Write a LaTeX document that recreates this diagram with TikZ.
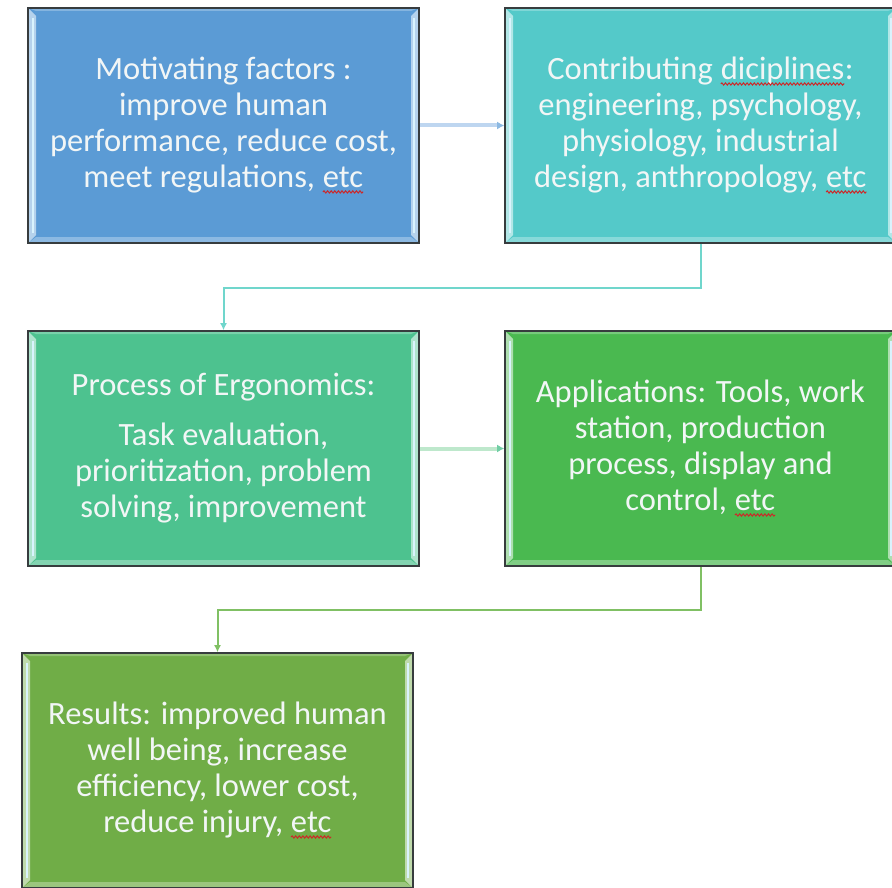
\documentclass[tikz,border=0pt]{standalone}
\usepackage{fontspec}
\setmainfont{Carlito}
\usetikzlibrary{arrows.meta,decorations.pathmorphing}

\definecolor{fillA}{RGB}{91,155,213}
\definecolor{fillB}{RGB}{84,201,201}
\definecolor{fillC}{RGB}{77,194,143}
\definecolor{fillD}{RGB}{74,185,80}
\definecolor{fillE}{RGB}{112,173,71}
\definecolor{edgegray}{RGB}{55,60,62}
\definecolor{txt}{RGB}{242,246,246}
\definecolor{lnA}{RGB}{190,214,240}
\definecolor{lnB}{RGB}{112,214,204}
\definecolor{lnC}{RGB}{190,232,204}
\definecolor{lnD}{RGB}{128,192,100}
\definecolor{squig}{RGB}{205,40,40}

% red wavy underline used under flagged words
\newcommand\spellmark[1]{\tikz[baseline=(sw.base)]{\node[shape=rectangle,inner sep=0pt,outer sep=0pt,
    minimum width=0pt,minimum height=0pt,draw=none,fill=none,path picture={},text=txt] (sw) {#1};
  \draw[squig,line width=1pt,decorate,decoration={snake,amplitude=1.1pt,segment length=3.6pt}]
    ([yshift=-4pt]sw.base west) -- ([yshift=-4pt]sw.base east);}}

\tikzset{
  bevelbox/.style={
    rectangle, minimum width=391pt, minimum height=235pt, inner sep=0pt,
    fill=#1, draw=edgegray, line width=1.6pt, text=txt, align=center,
    font=\fontsize{32.5}{36}\selectfont,
    path picture={
      \coordinate (pa) at (path picture bounding box.north west);
      \coordinate (pb) at (path picture bounding box.south east);
      % top lip
      \fill[#1!75!white] (pa) -- (pa -| pb) -- ([shift={(-8,3)}]pa -| pb) -- ([shift={(8,3)}]pa) -- cycle;
      % bottom lip
      \fill[#1!70!white] (pa |- pb) -- (pb) -- ([shift={(-8,-6)}]pb) -- ([shift={(8,-6)}]pa |- pb) -- cycle;
      % side lips
      \fill[#1!45!white] (pa) -- ([shift={(8,8)}]pa) -- ([shift={(8,-8)}]pa |- pb) -- (pa |- pb) -- cycle;
      \fill[#1!45!white] (pa -| pb) -- ([shift={(-8,8)}]pa -| pb) -- ([shift={(-8,-8)}]pb) -- (pb) -- cycle;
      \draw[white!85!cyan,line width=2pt] ([shift={(5,10)}]pa) -- ([shift={(5,-10)}]pa |- pb);
      \draw[white!85!cyan,line width=2pt] ([shift={(-5,10)}]pa -| pb) -- ([shift={(-5,-10)}]pb);
    }
  },
  link/.style={line width=#1, -{Latex[length=7pt,width=7pt]}},
}

\begin{document}
\begin{tikzpicture}[x=1pt,y=-1pt]
  \useasboundingbox (0,0) rectangle (892,888);
  \clip (0,0) rectangle (892,888);

  \node[bevelbox=fillA] (motiv) at (223.5,125.5)
    {Motivating factors :\\improve human\\performance, reduce cost,\\meet regulations, \spellmark{etc}};
  \node[bevelbox=fillB] (disc) at (700.5,125.5)
    {Contributing \spellmark{diciplines}:\\engineering, psychology,\\physiology, industrial\\design, anthropology, \spellmark{etc}};
  \node[bevelbox=fillC] (proc) at (223.5,448.5)
    {Process of Ergonomics:\\[14pt]Task evaluation,\\prioritization, problem\\solving, improvement};
  \node[bevelbox=fillD] (appl) at (700.5,448.5)
    {Applications: Tools, work\\station, production\\process, display and\\control, \spellmark{etc}};
  \node[bevelbox=fillE] (res) at (217.5,770.5)
    {Results: improved human\\well being, increase\\efficiency, lower cost,\\reduce injury, \spellmark{etc}};

  \draw[link=4pt, draw=lnA, -{Latex[length=7pt,width=8pt,color=fillA!70!white]}] (motiv.east) -- (disc.west);
  \draw[link=2pt, draw=lnB] (disc.south) -- ++(0,44) -| (proc.north);
  \draw[link=4pt, draw=lnC, -{Latex[length=7pt,width=8pt,color=fillC!80!white]}] (proc.east) -- (appl.west);
  \draw[link=2pt, draw=lnD] (appl.south) -- ++(0,43) -| (res.north);
\end{tikzpicture}
\end{document}
